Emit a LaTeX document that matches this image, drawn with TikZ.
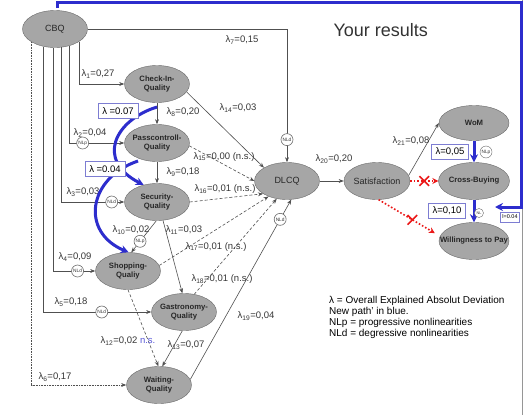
\documentclass[tikz,border=0pt]{standalone}
\usepackage{fontspec}
\setmainfont{Liberation Sans}
\usetikzlibrary{shapes.geometric,shapes.misc}
\usetikzlibrary{arrows,arrows.meta}
\definecolor{knoten}{RGB}{166,166,166}
\definecolor{rand}{RGB}{105,105,105}
\definecolor{pfad}{RGB}{80,80,80}
\definecolor{schrift}{RGB}{55,55,55}
\definecolor{neublau}{RGB}{45,45,205}
\definecolor{kastenrand}{RGB}{125,125,210}
\definecolor{nsrot}{RGB}{235,25,25}
\tikzset{>={Stealth[scale=0.9]}}
\tikzset{
  konstrukt/.style={ellipse, draw=rand, fill=knoten, minimum width=65pt, minimum height=37pt,
    inner xsep=-12pt, inner ysep=0pt, align=center, text=black!85,
    font=\fontsize{7.7}{8.8}\selectfont\bfseries},
  haupt/.style={konstrukt, font=\fontsize{9}{10}\selectfont},
  nl/.style={circle, draw=rand, fill=white, inner sep=0pt, minimum size=12pt, text=schrift,
    font=\fontsize{4.8}{5}\selectfont},
  wert/.style={inner sep=0pt, text=schrift, font=\fontsize{9.5}{10}\selectfont},
  kasten/.style={draw=kastenrand, fill=white, inner xsep=4pt, inner ysep=0pt, minimum height=15pt,
    font=\fontsize{9.5}{10}\selectfont},
  pfeil/.style={draw=pfad, line width=0.6pt, ->},
  ns/.style={pfeil, densely dashed},
  neu/.style={draw=neublau, line width=3pt, -{Stealth[length=8pt,width=8pt]}},
  rotpfeil/.style={draw=nsrot, line width=1.6pt, dotted, -{Stealth[length=6pt,width=6pt]}},
  kreuz/.style={cross out, solid, draw=nsrot, line width=1.6pt, minimum size=8pt, inner sep=0pt}
}
\newcommand{\lw}[2]{λ\textsubscript{#1}=#2}

\begin{document}
\begin{tikzpicture}[x=1pt, y=-1pt]
	\useasboundingbox[fill=white] (0,0) rectangle (525,415);

	\node[haupt] (cbq) at (55,29) {CBQ};
	\node[konstrukt] (checkin) at (157,84) {Check-In-\\Quality};
	\node[konstrukt] (pass) at (157,143) {Passcontroll-\\Quality};
	\node[konstrukt] (security) at (157,202) {Security-\\Quality};
	\node[konstrukt] (shopping) at (128,271) {Shopping-\\Qualiy};
	\node[konstrukt] (gastro) at (184,312) {Gastronomy-\\Quality};
	\node[konstrukt] (waiting) at (159,385) {Waiting-\\Quality};
	\node[haupt] (dlcq) at (287,181) {DLCQ};
	\node[haupt, minimum width=66pt] (satisf) at (377,181) {Satisfaction};
	\node[konstrukt, minimum width=70pt, minimum height=35pt] (wom) at (474,123) {WoM};
	\node[konstrukt, minimum width=71pt] (cross) at (474,181) {Cross-Buying};
	\node[konstrukt, minimum width=70pt] (wtp) at (474,241) {Willingness to Pay};

	\node[anchor=west, text=black!80, font=\fontsize{18}{20}\selectfont] (titel) at (330,30) {Your results};
	\node[anchor=north west, align=left, inner sep=0pt, font=\fontsize{10}{11}\selectfont] (legende) at (329,296)
		{λ = Overall Explained Absolut Deviation\\New path’ in blue.\\NLp = progressive nonlinearities\\NLd = degressive nonlinearities};

	\draw[pfeil] (cbq.-28) |- (checkin);
	\draw[pfeil] (cbq.-49) |- node[nl, pos=0.62] (nl2) {NLp} (pass);
	\draw[pfeil] (cbq.-71) |- node[nl, pos=0.9] (nl3) {NLd} (security);
	\draw[pfeil] (cbq.-96) |- node[nl, pos=0.79] (nl4) {NLd} (shopping);
	\draw[pfeil] (cbq.-123) |- node[nl, pos=0.77] (nl5) {NLd} (gastro);
	\draw[pfeil, densely dotted] (cbq.-151) |- (waiting);
	\draw[pfeil] (cbq) -| node[nl, pos=0.915] (nl7) {NLd} (dlcq);

	\draw[pfeil] (checkin) -- (pass);
	\draw[pfeil] (pass) -- (security);
	\draw[pfeil] (checkin.-15) -- (dlcq.150);
	\draw[ns] (pass.-5) -- (dlcq.180);
	\draw[ns] (security.0) -- (dlcq.208);
	\draw[ns] (shopping.10) -- (dlcq.220);
	\draw[ns] (gastro.60) -- (dlcq.240);
	\draw[pfeil] (waiting.10) -- node[nl, pos=0.89] (nl19) {NLd} (dlcq.-77);
	\draw[pfeil] (security.-92) -- node[nl, pos=0.65] (nl10) {NLp} (shopping.80);
	\draw[pfeil] (security.-72) -- (gastro.95);
	\draw[ns] (shopping.-90) -- (waiting.92);
	\draw[pfeil] (gastro.-95) -- (waiting.80);

	\draw[pfeil] (dlcq) -- (satisf);
	\draw[pfeil] (satisf.10) -- (wom.west);
	\draw[rotpfeil] (satisf) -- node[kreuz] (x1) {} (cross);
	\draw[rotpfeil, shorten >=6pt] (satisf.-85) -- node[kreuz, pos=0.55] (x2) {} (wtp.172);

	\node[wert] (l1) at (98,74) {\lw{1}{0,27}};
	\node[wert] (l2) at (90,133) {\lw{2}{0,04}};
	\node[wert] (l3) at (83,192) {\lw{3}{0,03}};
	\node[wert] (l4) at (75,257) {\lw{4}{0,09}};
	\node[wert] (l5) at (71,302) {\lw{5}{0,18}};
	\node[wert] (l6) at (55,377) {\lw{6}{0,17}};
	\node[wert] (l7) at (242,40) {\lw{7}{0,15}};
	\node[wert] (l8) at (183,112) {\lw{8}{0,20}};
	\node[wert] (l9) at (183,172) {\lw{9}{0,18}};
	\node[wert] (l10) at (131,230) {\lw{10}{0,02}};
	\node[wert] (l11) at (184,230) {\lw{11}{0,03}};
	\node[wert] (l12) at (128,341) {\lw{12}{0,02} \textcolor{neublau!80}{n.s.}};
	\node[wert] (l13) at (186,345) {\lw{13}{0,07}};
	\node[wert] (l14) at (238,108) {\lw{14}{0,03}};
	\node[wert] (l15) at (224,157) {\lw{15}{0,00 (n.s.)}};
	\node[wert] (l16) at (225,189) {\lw{16}{0,01 (n.s.)}};
	\node[wert] (l17) at (216,247) {\lw{17}{0,01 (n.s.)}};
	\node[wert] (l18) at (222,279) {\lw{18}{0,01 (n.s.)}};
	\node[wert] (l19) at (256,316) {\lw{19}{0,04}};
	\node[wert] (l20) at (334,159) {\lw{20}{0,20}};
	\node[wert] (l21) at (411,141) {\lw{21}{0,08}};

	\draw[rand!70, line width=1pt] (522.5,0) -- (522.5,415);

	\coordinate (bstart) at (57,8);
	\coordinate (becke) at (521,2);
	\coordinate (bziel) at (495,207);
	\coordinate (kurve1) at (157,107);
	\coordinate (kurve2) at (138,161);
	\draw[neu] (bstart) |- (becke) |- (bziel);
	\draw[neu] (kurve1) .. controls (115,120) and (95,160) .. (security.128);
	\draw[neu] (kurve2) .. controls (88,178) and (80,232) .. (shopping.88);
	\draw[neu] (wom) -- (cross);
	\draw[neu] (cross) -- (wtp);

	\node[kasten] (k1) at (118,111) {λ =0.07};
	\node[kasten] (k2) at (105,169) {λ =0.04};
	\node[kasten] (k3) at (450,152) {λ=0,05};
	\node[kasten] (k4) at (447,211) {λ=0,10};
	\node[kasten, minimum height=10pt, inner xsep=2pt, font=\fontsize{5.5}{6}\selectfont] (k5) at (510,217) {l=0.04};
	\node[nl] (nlw) at (486,152) {NLp};
	\node[nl, minimum size=9pt, font=\fontsize{3.8}{4}\selectfont] (nlc) at (479,213) {NL};

\end{tikzpicture}
\end{document}
